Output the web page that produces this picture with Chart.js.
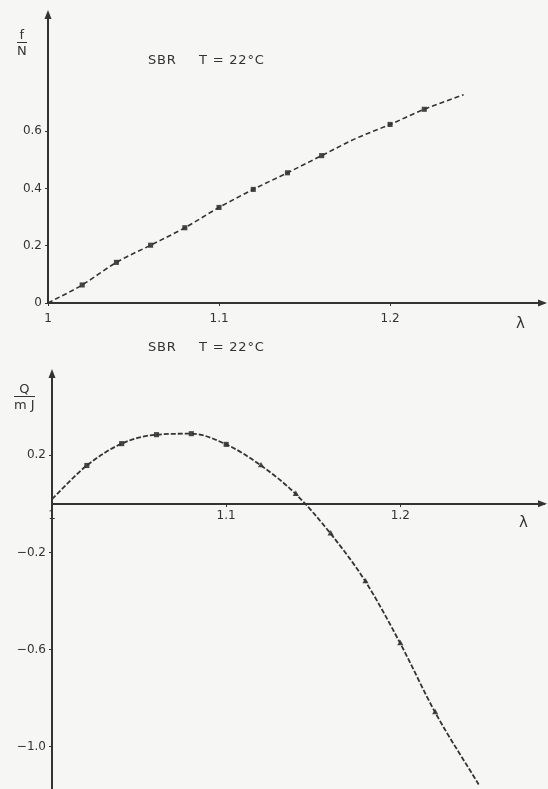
<!DOCTYPE html>
<html>
<head>
<meta charset="utf-8">
<script src="https://cdn.jsdelivr.net/npm/chart.js@4"></script>
<style>
  html,body{margin:0;padding:0;background:#f6f6f4;}
  #wrap{position:relative;width:548px;height:789px;overflow:hidden;font-family:"DejaVu Sans",sans-serif;color:#333;}
  canvas{position:absolute;left:0;}
  .t{position:absolute;font-size:13px;line-height:13px;white-space:nowrap;color:#333;letter-spacing:0.8px;}
  .frac{position:absolute;text-align:center;font-size:13px;line-height:13px;color:#333;}
  .frac .num{border-bottom:1.5px solid #333;padding:0 1px 1px 1px;}
  .frac .den{padding-top:1px;}
  .lam{position:absolute;font-size:15px;line-height:15px;color:#333;}
</style>
</head>
<body>
<div id="wrap">
  <canvas id="c1" width="548" height="335" style="top:0"></canvas>
  <canvas id="c2" width="548" height="461" style="top:335px"></canvas>

  <div class="t" style="left:148px;top:53px;">SBR</div>
  <div class="t" style="left:199px;top:53px;">T = 22°C</div>
  <div class="t" style="left:148px;top:340px;">SBR</div>
  <div class="t" style="left:199px;top:340px;">T = 22°C</div>

  <div class="frac" style="left:17px;top:28px;"><div class="num">f</div><div class="den">N</div></div>
  <div class="frac" style="left:14px;top:382px;"><div class="num">Q</div><div class="den">m J</div></div>

  <div class="lam" style="left:516px;top:316px;">λ</div>
  <div class="lam" style="left:519px;top:515px;">λ</div>
</div>
<script>
// ---- Top chart: f/N vs λ ----
const lambdaTop = [1.00, 1.02, 1.04, 1.06, 1.08, 1.10, 1.12, 1.14, 1.16, 1.18, 1.20, 1.22, 1.243];
const fTop      = [0.000, 0.063, 0.142, 0.202, 0.263, 0.334, 0.397, 0.455, 0.515, 0.575, 0.624, 0.677, 0.728];
const lambdaTopMarks = [1.02, 1.04, 1.06, 1.08, 1.10, 1.12, 1.14, 1.16, 1.20, 1.22];
const fTopMarks      = [0.063, 0.142, 0.202, 0.263, 0.334, 0.397, 0.455, 0.515, 0.624, 0.677];
const xTicksTop = [1, 1.1, 1.2];
const xTickLabelsTop = ['1', '1.1', '1.2'];
const yTicksTop = [0, 0.2, 0.4, 0.6];
const yTickLabelsTop = ['0', '0.2', '0.4', '0.6'];

// ---- Bottom chart: Q/mJ vs λ ----
const lambdaBot = [1.00, 1.02, 1.04, 1.06, 1.08, 1.10, 1.12, 1.14, 1.16, 1.18, 1.20, 1.22, 1.245];
const qBot      = [0.020, 0.158, 0.248, 0.285, 0.289, 0.245, 0.158, 0.040, -0.123, -0.320, -0.575, -0.859, -1.156];
const lambdaBotMarks = [1.02, 1.04, 1.06, 1.08, 1.10, 1.12, 1.14, 1.16, 1.18, 1.20, 1.22];
const qBotMarks      = [0.158, 0.248, 0.285, 0.289, 0.245, 0.158, 0.040, -0.123, -0.320, -0.575, -0.859];
const xTicksBot = [1, 1.1, 1.2];
const xTickLabelsBot = ['1', '1.1', '1.2'];
const yTicksBot = [-1.0, -0.6, -0.2, 0.2];
const yTickLabelsBot = ['\u22121.0', '\u22120.6', '\u22120.2', '0.2'];

const INK = '#333333';
const MARK = '#474747';
const FONT = {family: '"DejaVu Sans", sans-serif', size: 12};

function pts(xs, ys){ return xs.map((x,i)=>({x:x, y:ys[i]})); }

const arrowPlugin = {
  id: 'arrows',
  afterDraw(chart){
    const ctx = chart.ctx;
    const a = chart.chartArea;
    const ys = chart.scales.y;
    ctx.save();
    ctx.fillStyle = INK;
    const yx = a.left;
    ctx.beginPath();
    ctx.moveTo(yx, a.top - 4);
    ctx.lineTo(yx - 3.5, a.top + 5);
    ctx.lineTo(yx + 3.5, a.top + 5);
    ctx.closePath();
    ctx.fill();
    const xy = ys.getPixelForValue(0);
    ctx.beginPath();
    ctx.moveTo(a.right + 3, xy);
    ctx.lineTo(a.right - 6, xy - 3.5);
    ctx.lineTo(a.right - 6, xy + 3.5);
    ctx.closePath();
    ctx.fill();
    ctx.restore();
  }
};

function fixedTicks(values){
  return function(scale){ scale.ticks = values.map(v=>({value:v})); };
}
function noPad(s){ s.paddingTop = 0; s.paddingBottom = 0; s.paddingLeft = 0; s.paddingRight = 0; }

// Top chart
new Chart(document.getElementById('c1'), {
  type: 'line',
  data: {
    datasets: [
      {
        data: pts(lambdaTop, fTop),
        borderColor: INK, borderWidth: 1.6, borderDash: [5, 3],
        pointRadius: 0, fill: false, cubicInterpolationMode: 'monotone'
      },
      {
        data: pts(lambdaTopMarks, fTopMarks),
        showLine: false, pointStyle: 'rect', pointRadius: 3.6,
        pointBackgroundColor: MARK, pointBorderColor: MARK, pointBorderWidth: 0
      }
    ]
  },
  options: {
    responsive: false, animation: false,
    layout: {padding: {top: 14, right: 3, left: 0, bottom: 0}},
    plugins: {legend: {display: false}, tooltip: {enabled: false}},
    scales: {
      x: {
        type: 'linear', min: 1.0, max: 1.29,
        afterBuildTicks: fixedTicks(xTicksTop),
        afterFit(s){ s.height = 32; noPad(s); },
        ticks: {color: INK, font: FONT, padding: 6, maxRotation: 0,
                callback: (v, i) => xTickLabelsTop[i]},
        grid: {display: true, drawOnChartArea: false, drawTicks: true, tickLength: 3, color: INK},
        border: {display: true, color: INK, width: 2}
      },
      y: {
        type: 'linear', min: 0, max: 1.01,
        afterBuildTicks: fixedTicks(yTicksTop),
        afterFit(s){ s.width = 48; noPad(s); },
        ticks: {color: INK, font: FONT, padding: 3,
                callback: (v, i) => yTickLabelsTop[i]},
        grid: {display: true, drawOnChartArea: false, drawTicks: true, tickLength: 3, color: INK},
        border: {display: true, color: INK, width: 2}
      }
    }
  },
  plugins: [arrowPlugin]
});

// Bottom chart
new Chart(document.getElementById('c2'), {
  type: 'line',
  data: {
    datasets: [
      {
        data: pts(lambdaBot, qBot),
        borderColor: INK, borderWidth: 1.8, borderDash: [5, 2],
        pointRadius: 0, fill: false, cubicInterpolationMode: 'monotone'
      },
      {
        data: pts(lambdaBotMarks, qBotMarks),
        showLine: false,
        pointStyle: lambdaBotMarks.map(l => l <= 1.10 ? 'rect' : 'triangle'),
        pointRadius: 3.6,
        pointBackgroundColor: MARK, pointBorderColor: MARK, pointBorderWidth: 0
      }
    ]
  },
  options: {
    responsive: false, animation: false,
    layout: {padding: {top: 38, right: 3, left: 0, bottom: 0}},
    plugins: {legend: {display: false}, tooltip: {enabled: false}},
    scales: {
      x: {
        type: 'linear', min: 1.0, max: 1.2825, position: {y: 0},
        afterBuildTicks: fixedTicks(xTicksBot),
        afterFit(s){ noPad(s); },
        ticks: {color: INK, font: FONT, padding: 3, maxRotation: 0,
                callback: (v, i) => xTickLabelsBot[i]},
        grid: {display: true, drawOnChartArea: false, drawTicks: true, tickLength: 2, color: INK},
        border: {display: true, color: INK, width: 2}
      },
      y: {
        type: 'linear', min: -1.187, max: 0.539,
        afterBuildTicks: fixedTicks(yTicksBot),
        afterFit(s){ s.width = 52; noPad(s); },
        ticks: {color: INK, font: FONT, padding: 3,
                callback: (v, i) => yTickLabelsBot[i]},
        grid: {display: true, drawOnChartArea: false, drawTicks: true, tickLength: 3, color: INK},
        border: {display: true, color: INK, width: 2}
      }
    }
  },
  plugins: [arrowPlugin]
});
</script>
</body>
</html>
